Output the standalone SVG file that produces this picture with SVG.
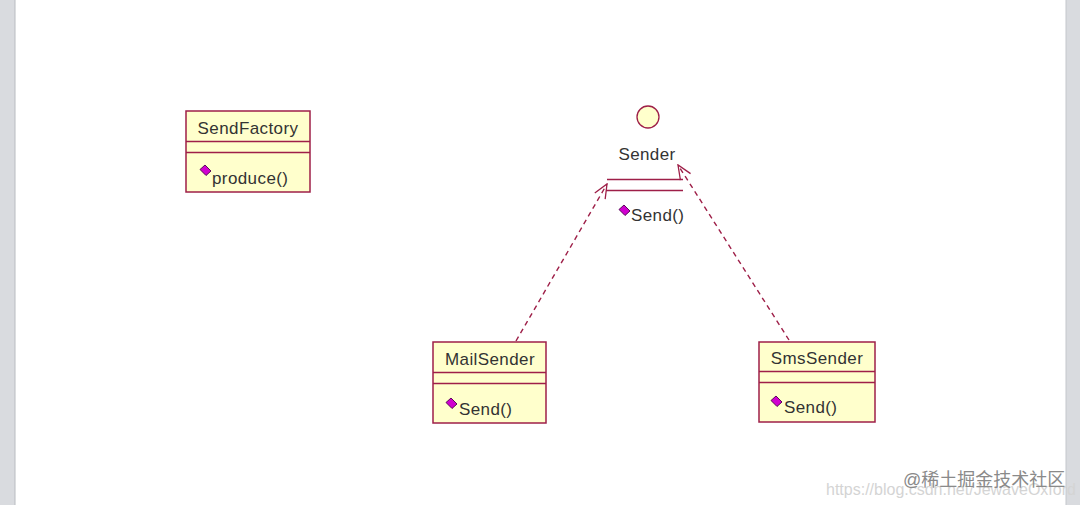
<svg xmlns="http://www.w3.org/2000/svg" width="1080" height="505" viewBox="0 0 1080 505">
<style>
.box{fill:#ffffcc;stroke:#9e1f48;stroke-width:1.5}
.sep{stroke:#9e1f48;stroke-width:1.5;fill:none}
.t{font-family:"Liberation Sans",Arial,sans-serif;font-size:17px;fill:#333;letter-spacing:0.4px}
.dep{stroke:#9e1f48;stroke-width:1.4;fill:none;stroke-dasharray:5 4}
.op{fill:#d000d0;stroke:#4a004a;stroke-width:0.9}
</style>
<defs>
<marker id="open" viewBox="0 0 16 16" refX="15" refY="8" markerWidth="16" markerHeight="16" markerUnits="userSpaceOnUse" orient="auto">
<path d="M1,2 L15,8 L1,14" fill="none" stroke="#9e1f48" stroke-width="1.3"/>
</marker>
</defs>
<rect x="0" y="0" width="1080" height="505" fill="#ffffff"/>
<rect x="0" y="0" width="15" height="505" fill="#d9dbdf"/>
<line x1="15" y1="0" x2="15" y2="505" stroke="#b8bbc0" stroke-width="1"/>
<rect x="1066" y="0" width="14" height="505" fill="#d9dbdf"/>
<line x1="1066" y1="0" x2="1066" y2="505" stroke="#c4c7cc" stroke-width="1"/>

<g id="connectors">
<path class="dep" d="M516,341 L607,184" marker-end="url(#open)"/>
<path class="dep" d="M789,340 L678,165" marker-end="url(#open)"/>
</g>

<g id="SendFactory">
<rect class="box" x="186" y="111" width="124" height="81"/>
<line class="sep" x1="186" y1="141.5" x2="310" y2="141.5"/>
<line class="sep" x1="186" y1="152.5" x2="310" y2="152.5"/>
<text class="t" x="248" y="134" text-anchor="middle">SendFactory</text>
<polygon class="op" points="200,169.5 205,165 211,171 206,175.5"/>
<text class="t" x="212" y="184">produce()</text>
</g>

<g id="Sender">
<circle cx="648" cy="117" r="11" fill="#ffffcc" stroke="#9e1f48" stroke-width="1.3"/>
<text class="t" x="647" y="160" text-anchor="middle">Sender</text>
<line class="sep" x1="607" y1="179.5" x2="683" y2="179.5"/>
<line class="sep" x1="606" y1="190.5" x2="683" y2="190.5"/>
<polygon class="op" points="619,209.5 624,205 630,211 625,215.5"/>
<text class="t" x="631" y="221">Send()</text>
</g>

<g id="MailSender">
<rect class="box" x="433" y="342" width="113" height="81"/>
<line class="sep" x1="433" y1="372.5" x2="546" y2="372.5"/>
<line class="sep" x1="433" y1="383.5" x2="546" y2="383.5"/>
<text class="t" x="490" y="365" text-anchor="middle">MailSender</text>
<polygon class="op" points="446,402.5 451,398 457,404 452,408.5"/>
<text class="t" x="459" y="415">Send()</text>
</g>

<g id="SmsSender">
<rect class="box" x="759" y="342" width="116" height="80"/>
<line class="sep" x1="759" y1="371.5" x2="875" y2="371.5"/>
<line class="sep" x1="759" y1="382.5" x2="875" y2="382.5"/>
<text class="t" x="817" y="364" text-anchor="middle">SmsSender</text>
<polygon class="op" points="771,400.5 776,396 782,402 777,406.5"/>
<text class="t" x="784" y="413">Send()</text>
</g>

<g id="watermark">
<text x="826" y="495" font-family="Liberation Sans,Arial,sans-serif" font-size="16" fill="#d4d4d4">https://blog.csdn.net/JewaveOxford</text>
<text x="903" y="486" font-family="Liberation Sans,'Noto Sans CJK SC',sans-serif" font-size="18" fill="#8a8a8a">@稀土掘金技术社区</text>
</g>
</svg>
